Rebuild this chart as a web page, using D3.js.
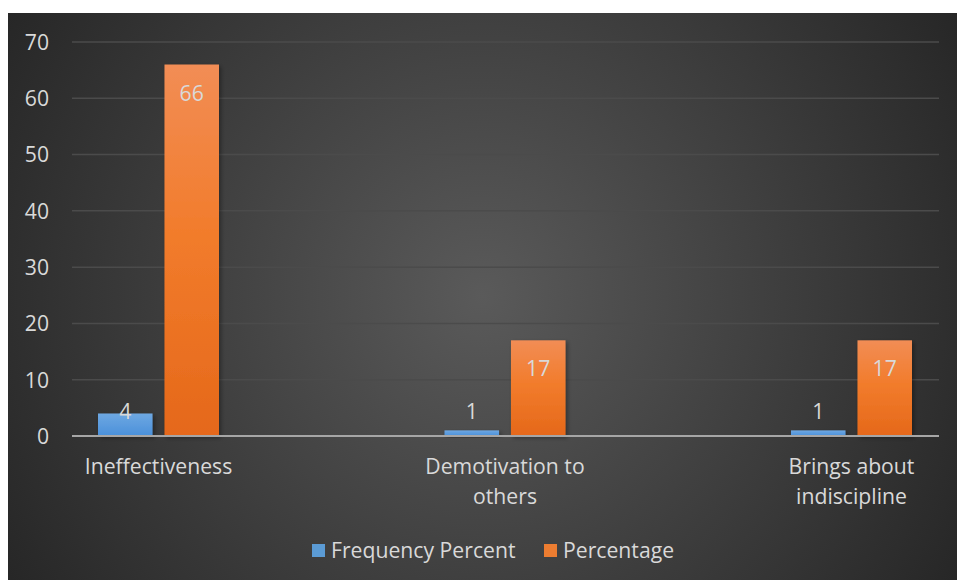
<!DOCTYPE html>
<html>
<head>
<meta charset="utf-8">
<script src="https://cdn.jsdelivr.net/npm/d3@7"></script>
<style>
  html, body { margin: 0; padding: 0; background: #ffffff; }
  svg { display: block; }
  text { font-family: "Open Sans", "Noto Sans", sans-serif; fill: #d9d9d9; }
</style>
</head>
<body>
<script>
// Chart data
const categories = [["Ineffectiveness"], ["Demotivation to", "others"], ["Brings about", "indiscipline"]];
const seriesNames = ["Frequency Percent", "Percentage"];
const frequencyPercent = [4, 1, 1];
const percentage = [66, 17, 17];
const yTicks = [0, 10, 20, 30, 40, 50, 60, 70];

const W = 957, H = 580;
const FS = 21.2;
const svg = d3.select("body").append("svg").attr("width", W).attr("height", H);
const defs = svg.append("defs");

// Dark panel with a soft radial highlight
const bg = defs.append("radialGradient").attr("id", "bg")
  .attr("gradientUnits", "userSpaceOnUse")
  .attr("cx", 482).attr("cy", 296).attr("r", 560);
bg.append("stop").attr("offset", "0%").attr("stop-color", "#5a5a5a");
bg.append("stop").attr("offset", "100%").attr("stop-color", "#262626");

const blueGrad = defs.append("linearGradient").attr("id", "blueG").attr("x1", 0).attr("y1", 0).attr("x2", 0).attr("y2", 1);
blueGrad.append("stop").attr("offset", "0%").attr("stop-color", "#6ea8e2");
blueGrad.append("stop").attr("offset", "100%").attr("stop-color", "#4a90da");
const orangeGrad = defs.append("linearGradient").attr("id", "orangeG").attr("x1", 0).attr("y1", 0).attr("x2", 0).attr("y2", 1);
orangeGrad.append("stop").attr("offset", "0%").attr("stop-color", "#f28d55");
orangeGrad.append("stop").attr("offset", "45%").attr("stop-color", "#f27c2c");
orangeGrad.append("stop").attr("offset", "100%").attr("stop-color", "#e5681a");

const shadow = defs.append("filter").attr("id", "shadow").attr("x", "-20%").attr("y", "-20%").attr("width", "150%").attr("height", "150%");
shadow.append("feDropShadow").attr("dx", 2).attr("dy", 2).attr("stdDeviation", 2).attr("flood-color", "#000").attr("flood-opacity", 0.35);

svg.append("rect").attr("x", 8).attr("y", 13).attr("width", W - 8).attr("height", H - 13).attr("fill", "url(#bg)");

// Scales
const plotLeft = 72, plotRight = 939;
const y = d3.scaleLinear().domain([0, 70]).range([436, 42]);
const x = d3.scalePoint().domain(d3.range(categories.length)).range([158.5, 851.5]);
const inner = d3.scaleBand().domain(seriesNames).range([-60.5, 60.5]).paddingInner(0.18);
const colors = ["url(#blueG)", "url(#orangeG)"];
const values = [frequencyPercent, percentage];

// Gridlines and tick labels
const grid = svg.append("g");
grid.selectAll("line").data(yTicks.filter(d => d > 0)).join("line")
  .attr("x1", plotLeft).attr("x2", plotRight)
  .attr("y1", d => y(d)).attr("y2", d => y(d))
  .attr("stroke", "#4b4b4b").attr("stroke-width", 1.5);

const yAxis = d3.axisLeft(y).tickValues(yTicks).tickSize(0).tickPadding(0);
const yg = svg.append("g").attr("transform", "translate(49,0)").call(yAxis);
yg.select(".domain").remove();
yg.selectAll("text").attr("font-size", FS).attr("fill", "#d9d9d9")
  .attr("font-family", "'Open Sans', sans-serif").attr("dy", "0.35em");

// Bars
const groups = svg.append("g").selectAll("g").data(categories).join("g")
  .attr("transform", (d, i) => `translate(${x(i)},0)`);

seriesNames.forEach((s, si) => {
  groups.append("rect")
    .attr("x", inner(s)).attr("width", inner.bandwidth())
    .attr("y", (d, i) => y(values[si][i]))
    .attr("height", (d, i) => y(0) - y(values[si][i]))
    .attr("fill", colors[si])
    .attr("filter", "url(#shadow)");
});

// Baseline
svg.append("line").attr("x1", plotLeft).attr("x2", plotRight)
  .attr("y1", y(0)).attr("y2", y(0))
  .attr("stroke", "#a6a6a6").attr("stroke-width", 2);

// Value labels
groups.append("text")
  .attr("x", inner(seriesNames[0]) + inner.bandwidth() / 2)
  .attr("y", y(0) - 17)
  .attr("text-anchor", "middle").attr("font-size", FS)
  .text((d, i) => frequencyPercent[i]);
groups.append("text")
  .attr("x", inner(seriesNames[1]) + inner.bandwidth() / 2)
  .attr("y", (d, i) => y(percentage[i]) + 36)
  .attr("text-anchor", "middle").attr("font-size", FS)
  .text((d, i) => percentage[i]);

// Category labels
groups.append("text")
  .attr("text-anchor", "middle").attr("font-size", FS)
  .selectAll("tspan").data(d => d).join("tspan")
  .attr("x", 0).attr("y", (d, i) => 474 + i * 30)
  .text(d => d);

// Legend
const legendItems = [
  { name: seriesNames[0], color: "#5b9bd5", x: 312 },
  { name: seriesNames[1], color: "#ed7d31", x: 544 }
];
const lg = svg.append("g").selectAll("g").data(legendItems).join("g")
  .attr("transform", d => `translate(${d.x},544)`);
lg.append("rect").attr("width", 13).attr("height", 13).attr("fill", d => d.color);
lg.append("text").attr("x", 19).attr("y", 14).attr("font-size", FS).text(d => d.name);
</script>
</body>
</html>
